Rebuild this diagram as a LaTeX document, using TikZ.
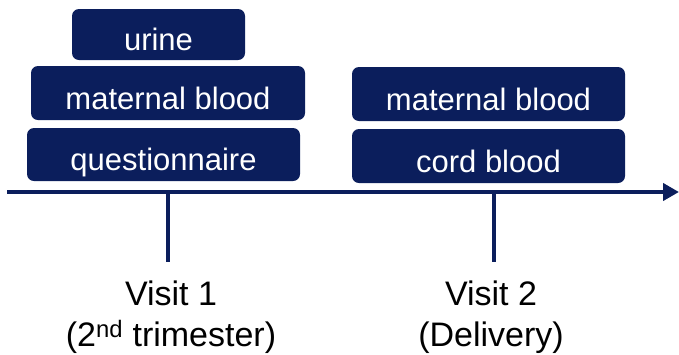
\documentclass[tikz,border=0pt]{standalone}
\usepackage{fontspec}
\setmainfont{Liberation Sans}
\usetikzlibrary{arrows.meta}
\definecolor{navy}{RGB}{11,30,92}

\begin{document}
\begin{tikzpicture}[
    x=1pt, y=-1pt,
    sample/.style={rectangle, rounded corners=7pt, fill=navy, text=white, inner sep=0pt,
        text height=32pt, text depth=0pt,
        minimum width=273pt, minimum height=54pt, font=\fontsize{31}{37}\selectfont},
    axis/.style={draw=navy, line width=4pt, -{Triangle[length=16pt,width=17pt]}},
    tick/.style={draw=navy, line width=4pt},
    visit/.style={align=center, inner sep=0pt, font=\fontsize{34}{41}\selectfont}
]
\useasboundingbox (0,0) rectangle (679,354);

% Left column: first visit
\node[sample, minimum width=173pt, minimum height=51pt] (urine) at (158.5,34.5) {urine};
\node[sample, minimum width=274pt] (mblood1) at (168,93) {maternal blood};
\node[sample, minimum height=53pt] (quest) at (163.5,154.5) {questionnaire};

% Right column: second visit
\node[sample] (mblood2) at (488.5,94) {maternal blood};
\node[sample] (cord) at (488.5,156) {cord blood};

% Timeline
\coordinate (start) at (7,192);
\coordinate (end) at (679,192);
\draw[axis] (start) -- (end);

\coordinate (t1) at (168,192);
\coordinate (t1end) at (168,262);
\coordinate (t2) at (494,192);
\coordinate (t2end) at (494,262);
\draw[tick] (t1) -- (t1end);
\draw[tick] (t2) -- (t2end);

\node[visit, anchor=north] (visit1) at (171,281) {Visit 1\\(2\textsuperscript{nd} trimester)};
\node[visit, anchor=north] (visit2) at (491,281) {Visit 2\\(Delivery)};

\end{tikzpicture}
\end{document}
